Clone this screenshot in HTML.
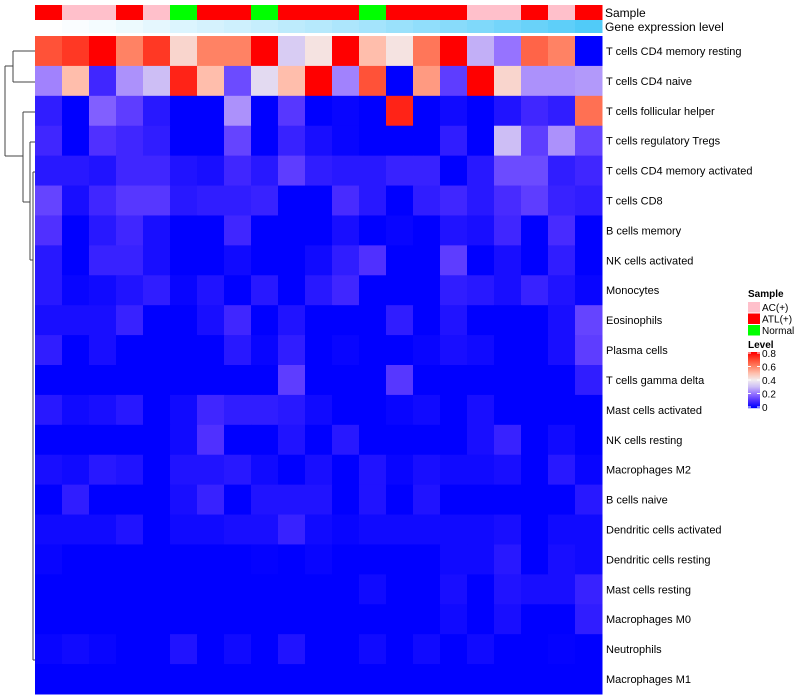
<!DOCTYPE html>
<html><head><meta charset="utf-8"><style>
html,body{margin:0;padding:0;background:#fff;}
svg{display:block;font-family:"Liberation Sans",sans-serif;}
</style></head><body>
<svg id="chart" width="800" height="700"></svg>
<script>
const rowLabels=["T cells CD4 memory resting","T cells CD4 naive","T cells follicular helper","T cells regulatory  Tregs","T cells CD4 memory activated","T cells CD8","B cells memory","NK cells activated","Monocytes","Eosinophils","Plasma cells","T cells gamma delta","Mast cells activated","NK cells resting","Macrophages M2","B cells naive","Dendritic cells activated","Dendritic cells resting","Mast cells resting","Macrophages M0","Neutrophils","Macrophages M1"];
const sampleGroups=["ATL","AC","AC","ATL","AC","Normal","ATL","ATL","Normal","ATL","ATL","ATL","Normal","ATL","ATL","ATL","AC","AC","ATL","AC","ATL"];
const geneLevel=[0,0.03,0.06,0.1,0.14,0.19,0.23,0.27,0.31,0.36,0.4,0.45,0.5,0.55,0.6,0.65,0.7,0.76,0.82,0.88,0.95];
const levelTicks=[0,0.2,0.4,0.6,0.8];
const values=[
[0.68,0.72,0.8,0.6,0.72,0.45,0.6,0.6,0.8,0.33,0.42,0.8,0.5,0.42,0.62,0.8,0.28,0.2,0.65,0.6,0],
[0.22,0.5,0.08,0.24,0.3,0.75,0.5,0.14,0.36,0.5,0.8,0.22,0.68,0,0.56,0.12,0.8,0.45,0.24,0.24,0.25],
[0.06,0,0.17,0.12,0.05,0,0,0.24,0,0.11,0,0.01,0,0.75,0,0.02,0,0.04,0.08,0.06,0.63],
[0.08,0,0.1,0.08,0.06,0,0,0.13,0,0.07,0.03,0.01,0,0,0,0.06,0,0.3,0.12,0.24,0.13],
[0.05,0.05,0.04,0.08,0.08,0.04,0.03,0.08,0.05,0.12,0.06,0.05,0.05,0.07,0.07,0,0.05,0.14,0.14,0.06,0.08],
[0.13,0.03,0.08,0.11,0.11,0.05,0.06,0.06,0.07,0,0,0.09,0.05,0,0.06,0.08,0.05,0.09,0.12,0.07,0.06],
[0.1,0,0.05,0.08,0.03,0,0,0.08,0,0,0,0.03,0,0.01,0,0.04,0.03,0.08,0,0.09,0],
[0.05,0,0.07,0.07,0.03,0,0,0.02,0,0,0.02,0.06,0.1,0,0,0.12,0,0.03,0,0.06,0],
[0.05,0.01,0.02,0.04,0.06,0.01,0.04,0,0.05,0,0.05,0.08,0,0,0,0.06,0.05,0.03,0.07,0.04,0.01],
[0.03,0.03,0.03,0.07,0,0,0.03,0.08,0,0.04,0,0,0,0.06,0,0.04,0,0,0,0.03,0.13],
[0.06,0,0.03,0,0,0,0,0.05,0.01,0.06,0,0.01,0,0,0.01,0.03,0.02,0,0,0.03,0.12],
[0,0,0,0,0,0,0,0,0,0.12,0,0,0,0.11,0,0,0,0,0,0,0.06],
[0.05,0.02,0.03,0.05,0,0.02,0.08,0.06,0.06,0.05,0.02,0,0,0.01,0.02,0,0.03,0,0,0,0],
[0,0,0,0,0,0.02,0.1,0,0,0.04,0,0.05,0,0,0,0,0.03,0.07,0,0.02,0],
[0.03,0.02,0.05,0.04,0,0.04,0.04,0.05,0.02,0,0.03,0,0.04,0.01,0.03,0.02,0.02,0.03,0,0.05,0.01],
[0,0.06,0,0,0,0.03,0.07,0,0.04,0.04,0.04,0,0.04,0,0.04,0,0,0,0,0,0.05],
[0.02,0.02,0.02,0.04,0,0.02,0.02,0.03,0.03,0.07,0.02,0.01,0.02,0.02,0.02,0.02,0.02,0.03,0,0.02,0.02],
[0.01,0,0,0,0,0,0,0,0.005,0,0.01,0,0,0,0,0.02,0.02,0.05,0,0.03,0.02],
[0,0,0,0,0,0,0,0,0,0,0,0,0.02,0,0,0.03,0,0.04,0.03,0.03,0.07],
[0,0,0,0,0,0,0,0,0,0,0,0,0,0,0,0.02,0,0.03,0,0,0.06],
[0.01,0.02,0.01,0,0,0.04,0,0.02,0,0.04,0,0,0.02,0,0.02,0,0.02,0,0,0.005,0],
[0,0,0,0,0,0,0,0,0,0,0,0,0,0,0,0,0,0,0,0,0]
];
const NS="http://www.w3.org/2000/svg";
const svg=document.getElementById('chart');
const X0=35,X1=602,Y0=36,Y1=694;
const nC=values[0].length,nR=rowLabels.length;
const cw=(X1-X0)/nC,rh=(Y1-Y0)/nR;
const xPos=i=>X0+i*cw, yPos=j=>Y0+j*rh;
const stops=[[0,[0,0,255]],[0.1,[80,48,255]],[0.2,[150,115,255]],[0.3,[205,190,245]],[0.4,[242,236,238]],[0.5,[255,190,172]],[0.6,[255,130,100]],[0.7,[255,70,45]],[0.8,[255,0,0]]];
function col(v){v=Math.max(0,Math.min(0.8,v));for(let k=1;k<stops.length;k++){if(v<=stops[k][0]){const a=stops[k-1],b=stops[k];const t=(v-a[0])/(b[0]-a[0]);return 'rgb('+a[1].map((c,i)=>Math.round(c+(b[1][i]-c)*t)).join(',')+')';}}return 'rgb(255,0,0)';}
function mk(tag,attrs,txt){const e=document.createElementNS(NS,tag);for(const k in attrs)e.setAttribute(k,attrs[k]);if(txt!==undefined)e.textContent=txt;svg.appendChild(e);return e;}
const groupColor={AC:"#FFC0CB",ATL:"#FF0000",Normal:"#00FF00"};
sampleGroups.forEach((g,i)=>{const r=mk('rect',{x:xPos(i),y:5,width:cw+0.5,height:15,fill:groupColor[g]});

});
geneLevel.forEach((g,i)=>{const c0=[255,255,255],c1=[72,200,248];const r=mk('rect',{x:xPos(i),y:20,width:cw+0.5,height:13,fill:'rgb('+c0.map((c,k)=>Math.round(c+(c1[k]-c)*g)).join(',')+')'});

});
let t=mk('text',{x:605,y:17,'font-size':12},'Sample');


t=mk('text',{x:605,y:31,'font-size':12},'Gene expression level');


values.forEach((row,j)=>row.forEach((v,i)=>{const r=mk('rect',{x:xPos(i),y:yPos(j),width:cw+0.5,height:rh+0.5,fill:col(v)});

}));
rowLabels.forEach((l,j)=>{const e=mk('text',{x:606,y:yPos(j)+rh/2+4,'font-size':11},l);

});
// dendrogram
const dl=[[13,51,35,51],[13,82,35,82],[13,51,13,82],[5,66,13,66],[5,66,5,156],[5,156,23,156],[23,112,35,112],[23,112,23,202],[23,202,30,202],[30,142,35,142],[30,142,30,260],[30,260,33,260],[33,172,35,172],[33,172,33,660],[33,660,35,660]];
dl.forEach(d=>{const e=mk('line',{x1:d[0],y1:d[1],x2:d[2],y2:d[3],stroke:'#444','stroke-width':1});

});
// legend
t=mk('text',{x:748,y:297,'font-size':10,'font-weight':'bold'},'Sample');


[["AC","AC(+)"],["ATL","ATL(+)"],["Normal","Normal"]].forEach((g,k)=>{const y=302+k*11.5;
const r=mk('rect',{x:748,y:y,width:12,height:10.5,fill:groupColor[g[0]]});


const tx=mk('text',{x:762,y:y+9,'font-size':10},g[1]);

});
t=mk('text',{x:748,y:348,'font-size':10,'font-weight':'bold'},'Level');


const cbTop=352,cbBot=408;const cy=v=>cbBot-(v/0.8)*(cbBot-cbTop-2)-1;
for(let k=0;k<56;k++){const v=0.8*(1-k/55);const r=mk('rect',{x:748,y:cbTop+k,width:12,height:1.2,fill:col(v)});

}
levelTicks.forEach(v=>{const y=cy(v);mk('line',{x1:748,x2:751,y1:y,y2:y,stroke:'#fff'});mk('line',{x1:757,x2:760,y1:y,y2:y,stroke:'#fff'});
const e=mk('text',{x:762,y:y+4,'font-size':10},String(v));

});
</script>
</body></html>
